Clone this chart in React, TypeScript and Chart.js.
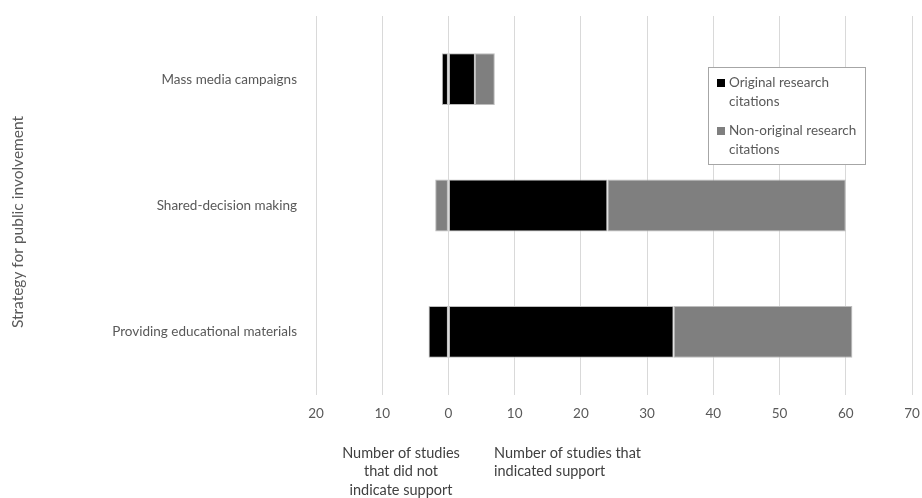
import React, { useEffect, useRef } from "react";
import { Chart, registerables } from "chart.js";

Chart.register(...registerables);

const categories = [
  "Mass media campaigns",
  "Shared-decision making",
  "Providing educational materials",
];
// Studies that indicated support (drawn to the right of zero)
const originalSupport = [4, 24, 34];
const nonOriginalSupport = [3, 36, 27];
// Studies that did not indicate support (drawn to the left of zero)
const originalNoSupport = [1, 0, 3];
const nonOriginalNoSupport = [0, 2, 0];

const legendLabels = [
  ["Original research", "citations"],
  ["Non-original research", "citations"],
];
const yTitle = "Strategy for public involvement";
const leftNote = ["Number of studies", "that did not", "indicate support"];
const rightNote = ["Number of studies that", "indicated support"];

const BLACK = "#000000";
const GREY = "#7f7f7f";
const EDGE = "#bdbdbd";
const FONT = "Lato, 'Open Sans', sans-serif";

const annotations = {
  id: "annotations",
  afterDraw(chart: any) {
    const { ctx } = chart;
    ctx.save();
    // rotated y-axis title
    ctx.fillStyle = "#595959";
    ctx.font = `15.5px ${FONT}`;
    ctx.textAlign = "center";
    ctx.textBaseline = "middle";
    ctx.translate(18, 222);
    ctx.rotate(-Math.PI / 2);
    ctx.fillText(yTitle, 0, 0);
    ctx.restore();

    // legend box
    ctx.save();
    const bx = 708.5, by = 67.5, bw = 157, bh = 97;
    ctx.fillStyle = "#ffffff";
    ctx.fillRect(bx, by, bw, bh);
    ctx.strokeStyle = "#a6a6a6";
    ctx.lineWidth = 1;
    ctx.strokeRect(bx, by, bw, bh);
    const colors = [BLACK, GREY];
    const rowY = [83, 131];
    ctx.font = `13.5px ${FONT}`;
    ctx.textBaseline = "middle";
    ctx.textAlign = "left";
    legendLabels.forEach((lines, i) => {
      ctx.fillStyle = colors[i];
      ctx.fillRect(717, rowY[i] - 4, 8, 8);
      ctx.fillStyle = "#595959";
      lines.forEach((t, j) => ctx.fillText(t, 729, rowY[i] + j * 18.5));
    });
    ctx.restore();

    // notes under the value axis
    ctx.save();
    ctx.fillStyle = "#404040";
    ctx.font = `14.5px ${FONT}`;
    ctx.textBaseline = "middle";
    ctx.textAlign = "center";
    leftNote.forEach((t, j) => ctx.fillText(t, 401, 453 + j * 18.5));
    ctx.textAlign = "left";
    rightNote.forEach((t, j) => ctx.fillText(t, 494, 453 + j * 18.5));
    ctx.restore();
  },
};

const noEdgePadding = (s: any) => {
  s.paddingTop = 0;
  s.paddingBottom = 0;
  s.paddingLeft = 0;
  s.paddingRight = 0;
};

export default function App() {
  const ref = useRef<HTMLCanvasElement>(null);

  useEffect(() => {
    document.body.style.margin = "0";
    const ds = (label: string, data: number[], color: string) => ({
      label,
      data,
      backgroundColor: color,
      borderColor: EDGE,
      borderWidth: 1,
      borderSkipped: false,
      stack: "s",
    });
    const chart = new Chart(ref.current!, {
      type: "bar",
      data: {
        labels: categories,
        datasets: [
          ds("Original research citations", originalSupport, BLACK),
          ds("Non-original research citations", nonOriginalSupport, GREY),
          ds("Original research citations", originalNoSupport.map((v) => -v), BLACK),
          ds("Non-original research citations", nonOriginalNoSupport.map((v) => -v), GREY),
        ] as any,
      },
      options: {
        indexAxis: "y",
        responsive: false,
        animation: false,
        maintainAspectRatio: false,
        datasets: { bar: { categoryPercentage: 1, barPercentage: 0.41 } },
        layout: { padding: { top: 16, right: 10, left: 0, bottom: 0 } },
        plugins: { legend: { display: false }, tooltip: { enabled: false } },
        scales: {
          x: {
            type: "linear",
            stacked: true,
            min: -20,
            max: 70,
            grid: { color: "#d9d9d9", drawTicks: false, lineWidth: 1 },
            border: { display: false },
            ticks: {
              stepSize: 10,
              padding: 11,
              color: "#595959",
              font: { family: FONT, size: 13.5 },
              callback: (v: any) => String(Math.abs(Number(v))),
            },
            afterFit: (s: any) => {
              s.height = 103;
              noEdgePadding(s);
            },
          },
          y: {
            stacked: true,
            grid: { display: false, drawTicks: false },
            border: { display: false },
            ticks: {
              padding: 19,
              color: "#595959",
              font: { family: FONT, size: 13.5 },
            },
            afterFit: (s: any) => {
              s.width = 316;
              noEdgePadding(s);
            },
          },
        },
      },
      plugins: [annotations],
    });
    return () => chart.destroy();
  }, []);

  return <canvas ref={ref} width={922} height={498} style={{ display: "block" }} />;
}
